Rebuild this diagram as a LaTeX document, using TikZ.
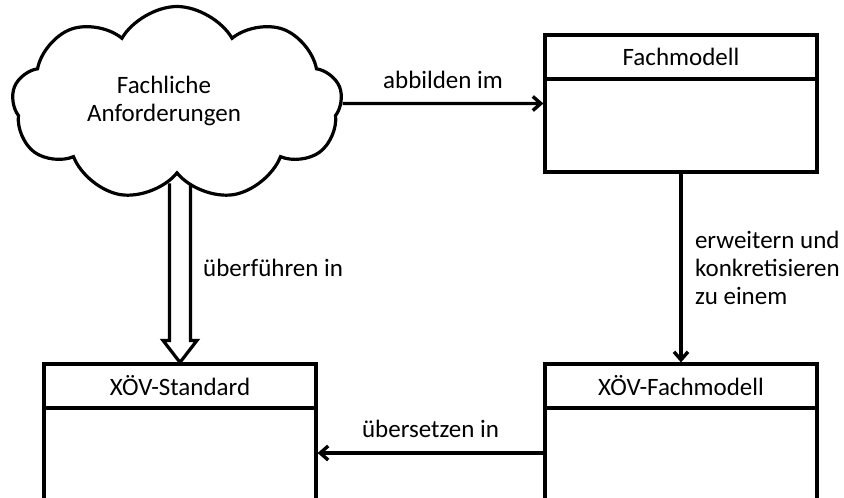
\documentclass[tikz,border=0pt]{standalone}
\usepackage{fontspec}
\setmainfont{Carlito}
\usetikzlibrary{arrows.meta,shapes.symbols,backgrounds,positioning}

\tikzset{
  classbox/.style={draw, line width=3.2pt, fill=white, minimum width=272pt, inner sep=0pt},
  headbox/.style={draw, line width=3.2pt, minimum width=272pt, minimum height=44pt, inner sep=0pt},
  conn/.style={line width=3.4pt, -{Straight Barb[length=8pt,width=14pt]}},
  wolke/.style={cloud, draw, line width=3.2pt, fill=white, cloud puffs=9, cloud puff arc=120,
    aspect=1.7, minimum width=330pt, minimum height=194pt, inner sep=0pt},
}

\begin{document}
\begin{tikzpicture}[x=1pt, y=-1pt, font=\fontsize{25}{28}\selectfont]
        \useasboundingbox (0,0) rectangle (844,498);
        \clip (0,0) rectangle (844,498);

        % Anforderungen
        \node[wolke] (anf) at (177,103.5) {};
        \node[align=center, inner sep=0pt] (anftext) at ([xshift=-13pt, yshift=2.5pt]anf.center) {Fachliche\\Anforderungen};

        % Modelle
        \node[classbox, minimum height=137pt] (fach) at (681,103.5) {};
        \node[headbox, anchor=north] (fachkopf) at (fach.north) {Fachmodell};
        \node[classbox, minimum height=178pt] (xfach) at (681,453) {};
        \node[headbox, anchor=north] (xfachkopf) at (xfach.north) {XÖV-Fachmodell};
        \node[classbox, minimum height=178pt] (std) at (180,453) {};
        \node[headbox, anchor=north] (stdkopf) at (std.north) {XÖV-Standard};

        % Beziehungen
        \draw[conn] (anf.east) -- (fach.west) node[midway, above=10pt] (abb) {abbilden im};
        \draw[conn] (fach.south) -- (xfach.north) node[midway, right=9pt, align=left] (erw) {erweitern und\\konkretisieren\\zu einem};
        \draw[conn] (xfach.west) -- (std.east) node[midway, above=10pt] (ueb) {übersetzen in};

        \begin{scope}[on background layer]
            \draw[line width=3.2pt] (std.north) ++(-10.5,-179) -- ++(0,157) -- ++(-6.5,0)
                -- (std.north) -- ++(17,-22) -- ++(-6.5,0) -- ++(0,-157);
        \end{scope}
        \node[anchor=west, inner sep=0pt] (ueberf) at (203,268) {überführen in};
\end{tikzpicture}
\end{document}
